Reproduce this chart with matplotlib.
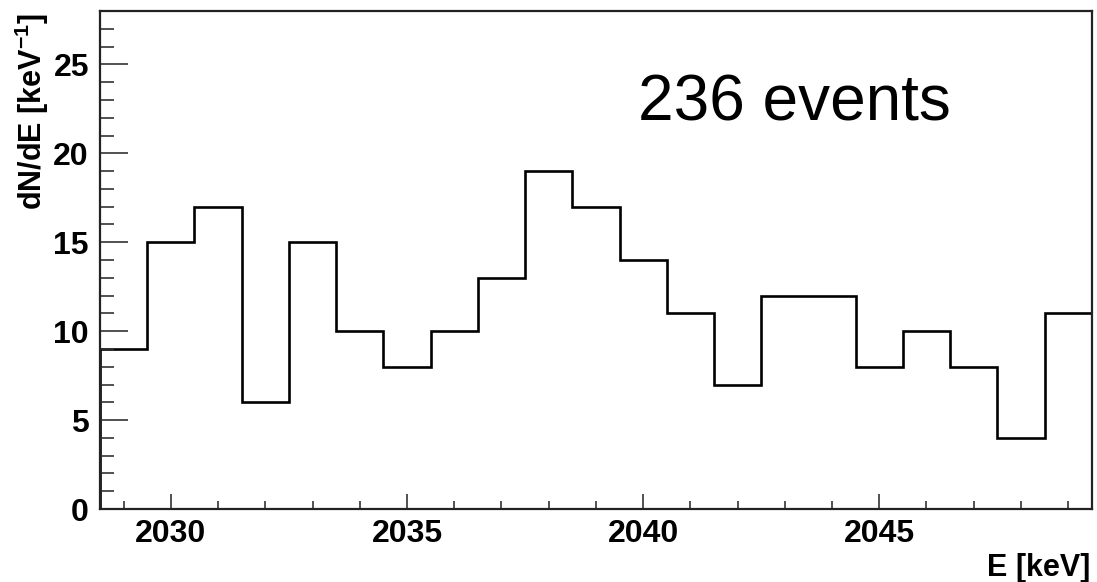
import numpy as np
import matplotlib
matplotlib.use("Agg")
import matplotlib.pyplot as plt
from matplotlib.ticker import MultipleLocator

plt.rcParams['font.family'] = ['Liberation Sans', 'DejaVu Sans']
plt.rcParams['mathtext.fontset'] = 'custom'
plt.rcParams['mathtext.rm'] = 'Liberation Sans'
plt.rcParams['mathtext.bf'] = 'Liberation Sans:bold'

# Histogram contents: counts per 1 keV bin starting at 2028.5 keV
bin_start = 2028.5
bin_width = 1.0
counts = [9, 15, 17, 6, 15, 10, 8, 10, 13, 19, 17, 14, 11, 7, 12, 12, 8, 10, 8, 4, 11]
x_ticks = [2030, 2035, 2040, 2045]
y_ticks = [0, 5, 10, 15, 20, 25]

edges = bin_start + bin_width * np.arange(len(counts) + 1)

fig = plt.figure(figsize=(10.97, 5.82), dpi=100)
ax = fig.add_axes([0.0912, 0.1254, 0.9952 - 0.0912, 0.9811 - 0.1254])

ax.stairs(counts, edges, color='black', linewidth=1.9)

ax.set_xlim(edges[0], edges[-1])
ax.set_ylim(0, 28)

ax.set_xticks(x_ticks)
ax.set_yticks(y_ticks)
ax.xaxis.set_minor_locator(MultipleLocator(1))
ax.yaxis.set_minor_locator(MultipleLocator(1))

ax.tick_params(axis='both', which='both', direction='in', top=False, right=False,
               width=1.2, color='#333333')
ax.tick_params(axis='x', which='major', length=11, pad=7)
ax.tick_params(axis='x', which='minor', length=6)
ax.tick_params(axis='y', which='major', length=20, pad=8)
ax.tick_params(axis='y', which='minor', length=10)

for lbl in ax.get_xticklabels() + ax.get_yticklabels():
    lbl.set_fontsize(23)
    lbl.set_fontweight('bold')

for sp in ax.spines.values():
    sp.set_linewidth(1.6)
    sp.set_color('#222222')

fig.text(0.0292, 0.9777, r'dN/dE [keV$^{\mathbf{-1}}$]', rotation=90,
         ha='center', va='top', fontsize=22, fontweight='bold')
fig.text(0.9936, 0.0103, 'E [keV]', ha='right', va='baseline',
         fontsize=22, fontweight='bold')

fig.text(0.5816, 0.7938, f'{sum(counts)} events', ha='left', va='baseline',
         fontsize=46)

fig.savefig('out.png', dpi=100, facecolor='white')
